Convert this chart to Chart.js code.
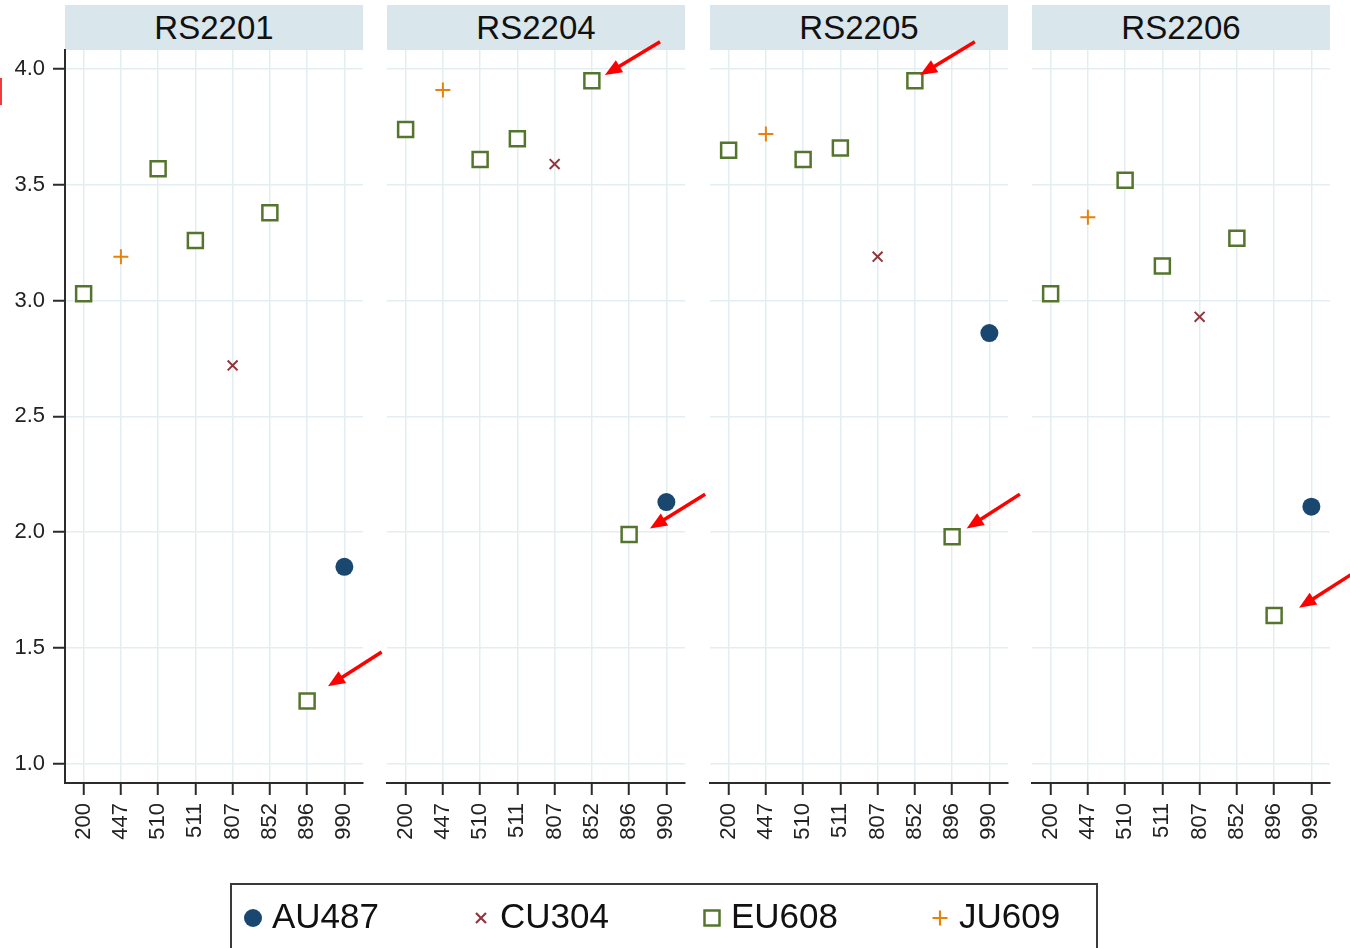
<!DOCTYPE html>
<html>
<head>
<meta charset="utf-8">
<script src="https://cdn.jsdelivr.net/npm/chart.js@4.4.1/dist/chart.umd.min.js"></script>
<style>
  body { margin: 0; background: #fff; width: 1350px; height: 948px; overflow: hidden; position: relative;
         font-family: "Liberation Sans", Arial, sans-serif; }
  .strip { position: absolute; top: 5px; height: 45px; width: 298px; background: #d9e6eb; color: #111;
           font-size: 33px; line-height: 46px; text-align: center; }
  canvas { position: absolute; left: 0; top: 0; }
  #legend { position: absolute; left: 230px; top: 883px; width: 864px; height: 80px; border: 2px solid #3a3a3a; }
  .item { position: absolute; top: 14px; height: 34px; line-height: 34px; font-size: 35px; color: #111; }
  .mk { position: absolute; top: 22px; }
  #redmark { position: absolute; left: 0; top: 78px; width: 2px; height: 27px; background: #f23a3a; }
</style>
</head>
<body>
<div id="redmark"></div>
<div id="strips"></div>
<div id="canvases"></div>
<div id="legend"></div>
<script>
// categorias (eixo x) e painéis
const categories = ['200', '447', '510', '511', '807', '852', '896', '990'];
const panels = ['RS2201', 'RS2204', 'RS2205', 'RS2206'];
const series = ['AU487', 'CU304', 'EU608', 'JU609'];
// a que série pertence cada categoria
const seriesOf = ['EU608', 'JU609', 'EU608', 'EU608', 'CU304', 'EU608', 'EU608', 'AU487'];

// valores por painel
const rs2201 = [3.03, 3.19, 3.57, 3.26, 2.72, 3.38, 1.27, 1.85];
const rs2204 = [3.74, 3.91, 3.61, 3.70, 3.59, 3.95, 1.99, 2.13];
const rs2205 = [3.65, 3.72, 3.61, 3.66, 3.19, 3.95, 1.98, 2.86];
const rs2206 = [3.03, 3.36, 3.52, 3.15, 2.93, 3.27, 1.64, 2.11];
const panelValues = [rs2201, rs2204, rs2205, rs2206];

const yTicks = [1.0, 1.5, 2.0, 2.5, 3.0, 3.5, 4.0];

// setas vermelhas: painel, cauda (x0,y0) -> ponta (x1,y1), em unidades dos dados
const arrows = [
  { panel: 0, x0: 8.00, y0: 1.482, x1: 6.56, y1: 1.334 },
  { panel: 1, x0: 6.83, y0: 4.119, x1: 5.35, y1: 3.975 },
  { panel: 1, x0: 8.04, y0: 2.164, x1: 6.56, y1: 2.016 },
  { panel: 2, x0: 6.61, y0: 4.119, x1: 5.14, y1: 3.975 },
  { panel: 2, x0: 7.82, y0: 2.164, x1: 6.39, y1: 2.016 },
  { panel: 3, x0: 8.12, y0: 1.822, x1: 6.67, y1: 1.673 }
];

const panelLeft = [65, 387, 710, 1032];
const panelWidth = 298;
const W = 1350, H = 948;
const fontFamily = '"Liberation Sans", Arial, sans-serif';
const gridColor = '#e4eef0';
const axisColor = '#2b2b2b';

const styles = {
  AU487: { pointStyle: 'circle', pointRadius: 9, color: '#1a476f', fill: '#1a476f', width: 0 },
  CU304: { pointStyle: 'crossRot', pointRadius: 7, color: '#90353b', fill: '#90353b', width: 2 },
  EU608: { pointStyle: 'rect', pointRadius: 10.6, color: '#55752f', fill: '#ffffff', width: 2.5 },
  JU609: { pointStyle: 'cross', pointRadius: 7.5, color: '#e8800c', fill: '#e8800c', width: 2 }
};

const arrowPlugin = {
  id: 'setas',
  afterDatasetsDraw(chart, args, opts) {
    const ctx = chart.ctx;
    const xs = chart.scales.x, ys = chart.scales.y;
    arrows.filter(a => a.panel === opts.panel).forEach(a => {
      const px0 = xs.getPixelForValue(a.x0), py0 = ys.getPixelForValue(a.y0);
      const px1 = xs.getPixelForValue(a.x1), py1 = ys.getPixelForValue(a.y1);
      const ang = Math.atan2(py1 - py0, px1 - px0);
      const head = 17, half = 7;
      const bx = px1 - head * Math.cos(ang), by = py1 - head * Math.sin(ang);
      ctx.save();
      ctx.strokeStyle = '#ff0000';
      ctx.fillStyle = '#ff0000';
      ctx.lineWidth = 3.5;
      ctx.beginPath();
      ctx.moveTo(px0, py0);
      ctx.lineTo(bx + 2 * Math.cos(ang), by + 2 * Math.sin(ang));
      ctx.stroke();
      ctx.beginPath();
      ctx.moveTo(px1, py1);
      ctx.lineTo(bx + half * Math.sin(ang), by - half * Math.cos(ang));
      ctx.lineTo(bx - half * Math.sin(ang), by + half * Math.cos(ang));
      ctx.closePath();
      ctx.fill();
      ctx.restore();
    });
  }
};

function makePanel(i) {
  const strip = document.createElement('div');
  strip.className = 'strip';
  strip.style.left = panelLeft[i] + 'px';
  strip.textContent = panels[i];
  document.getElementById('strips').appendChild(strip);

  const canvas = document.createElement('canvas');
  canvas.width = W;
  canvas.height = H;
  document.getElementById('canvases').appendChild(canvas);

  const values = panelValues[i];
  const datasets = series.map(s => ({
    label: s,
    data: values.map((v, j) => (seriesOf[j] === s ? v : null)),
    showLine: false,
    pointStyle: styles[s].pointStyle,
    pointRadius: styles[s].pointRadius,
    pointHoverRadius: styles[s].pointRadius,
    pointBorderColor: styles[s].color,
    pointBackgroundColor: styles[s].fill,
    pointBorderWidth: styles[s].width,
    borderColor: styles[s].color,
    backgroundColor: styles[s].fill
  }));

  const first = i === 0;

  new Chart(canvas.getContext('2d'), {
    type: 'line',
    data: { labels: categories, datasets: datasets },
    plugins: [arrowPlugin],
    options: {
      responsive: false,
      animation: false,
      layout: {
        padding: { left: first ? 0 : panelLeft[i], right: W - panelLeft[i] - panelWidth, top: 50, bottom: 0 }
      },
      plugins: {
        legend: { display: false },
        tooltip: { enabled: false },
        setas: { panel: i }
      },
      scales: {
        x: {
          type: 'category',
          offset: true,
          grid: { color: gridColor, lineWidth: 1.5, tickColor: axisColor, tickLength: 12, tickWidth: 2 },
          border: { color: axisColor, width: 2 },
          ticks: {
            autoSkip: false, minRotation: 90, maxRotation: 90, padding: 8,
            color: '#222', font: { size: 22, family: fontFamily }
          },
          afterFit: s => { s.height = H - 783; }
        },
        y: {
          min: 0.916,
          max: 4.083,
          afterBuildTicks: s => { s.ticks = yTicks.map(v => ({ value: v })); },
          afterFit: s => { s.width = first ? 65 : 0; },
          grid: { color: gridColor, lineWidth: 1.5, tickColor: axisColor, tickLength: 12, tickWidth: 2, drawTicks: first },
          border: { display: first, color: axisColor, width: 2 },
          ticks: {
            display: first, padding: 8, color: '#222',
            font: { size: 22, family: fontFamily },
            callback: v => Number(v).toFixed(1)
          }
        }
      }
    }
  });
}

panels.forEach((p, i) => makePanel(i));

// legenda
const legendPos = [21, 249, 480, 708];
const markerSvg = {
  AU487: '<svg width="22" height="22"><circle cx="11" cy="11" r="9" fill="#1a476f"/></svg>',
  CU304: '<svg width="22" height="22"><path d="M6 6L16 16M16 6L6 16" stroke="#90353b" stroke-width="2.2"/></svg>',
  EU608: '<svg width="22" height="22"><rect x="3.5" y="3.5" width="15" height="15" fill="#fff" stroke="#55752f" stroke-width="2.5"/></svg>',
  JU609: '<svg width="22" height="22"><path d="M3.5 11H18.5M11 3.5V18.5" stroke="#e8800c" stroke-width="2.2"/></svg>'
};
const legend = document.getElementById('legend');
series.forEach((s, k) => {
  const mk = document.createElement('div');
  mk.className = 'mk';
  mk.style.left = (legendPos[k] - 11) + 'px';
  mk.innerHTML = markerSvg[s];
  legend.appendChild(mk);
  const txt = document.createElement('div');
  txt.className = 'item';
  txt.style.left = (legendPos[k] + 19) + 'px';
  txt.textContent = s;
  legend.appendChild(txt);
});
</script>
</body>
</html>
